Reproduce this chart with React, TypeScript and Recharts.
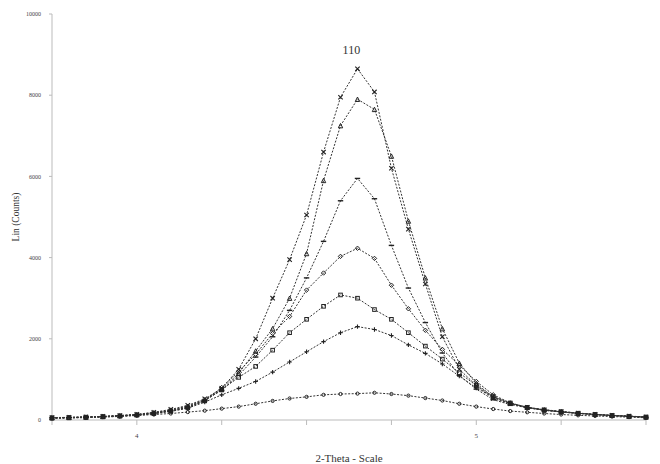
import React from 'react';
import { LineChart, Line, XAxis, YAxis, ReferenceDot } from 'recharts';

// 2-theta positions (step 0.05)
const thetas = [
  3.75, 3.8, 3.85, 3.9, 3.95, 4.0, 4.05, 4.1, 4.15, 4.2, 4.25, 4.3, 4.35, 4.4, 4.45, 4.5, 4.55, 4.6,
  4.65, 4.7, 4.75, 4.8, 4.85, 4.9, 4.95, 5.0, 5.05, 5.1, 5.15, 5.2, 5.25, 5.3, 5.35, 5.4, 5.45, 5.5,
];

const scan1 = [60, 65, 75, 90, 110, 140, 190, 260, 360, 520, 780, 1250, 2000, 3000, 3950, 5050, 6600, 7950,
  8650, 8080, 6200, 4700, 3350, 2050, 1250, 850, 530, 400, 310, 250, 210, 170, 140, 115, 95, 75];
const scan2 = [55, 62, 72, 88, 108, 135, 180, 245, 340, 500, 750, 1150, 1700, 2250, 3000, 4100, 5900, 7250,
  7900, 7650, 6500, 4900, 3500, 2250, 1400, 900, 560, 410, 315, 255, 210, 170, 140, 115, 95, 75];
const scan3 = [55, 62, 72, 85, 105, 130, 175, 235, 320, 490, 730, 1100, 1550, 2050, 2700, 3500, 4400, 5400,
  5950, 5450, 4300, 3250, 2400, 1650, 1100, 760, 500, 380, 300, 240, 200, 165, 135, 110, 92, 72];
const scan4 = [52, 60, 70, 82, 100, 125, 165, 225, 310, 480, 800, 1200, 1620, 2130, 2550, 3200, 3620, 4030,
  4230, 3980, 3320, 2740, 2210, 1740, 1350, 950, 620, 420, 310, 245, 200, 165, 135, 110, 90, 70];
const scan5 = [50, 58, 68, 80, 98, 122, 160, 220, 300, 470, 750, 1050, 1320, 1720, 2150, 2480, 2800, 3080,
  3000, 2720, 2480, 2150, 1820, 1500, 1160, 850, 580, 420, 310, 245, 200, 165, 135, 110, 90, 70];
const scan6 = [50, 56, 66, 78, 95, 118, 155, 210, 290, 440, 620, 780, 950, 1180, 1430, 1680, 1930, 2150,
  2300, 2230, 2080, 1850, 1640, 1380, 1080, 790, 560, 410, 305, 240, 195, 160, 130, 105, 88, 68];
const scan7 = [40, 48, 58, 70, 88, 110, 135, 160, 195, 230, 280, 330, 400, 470, 530, 570, 620, 640,
  650, 670, 640, 600, 540, 480, 400, 330, 270, 220, 190, 160, 135, 115, 100, 85, 70, 55];

const peakLabel = '110';
const xTickLabels: Record<string, string> = { '4': '4', '5': '5' };
const xTicks = [3.75, 4.0, 4.25, 4.5, 4.75, 5.0, 5.25, 5.5];
const yTicks = [0, 2000, 4000, 6000, 8000, 10000];

const data = thetas.map((t, i) => ({
  t,
  s1: scan1[i],
  s2: scan2[i],
  s3: scan3[i],
  s4: scan4[i],
  s5: scan5[i],
  s6: scan6[i],
  s7: scan7[i],
}));

const C = '#222';

const makeDot = (shape: string) => (props: any) => {
  const { cx, cy, index } = props;
  if (cx == null || cy == null) return <g key={`d${index}`} />;
  const s = 2.2;
  switch (shape) {
    case 'cross':
      return (
        <path key={`d${index}`} d={`M${cx - s},${cy - s}L${cx + s},${cy + s}M${cx - s},${cy + s}L${cx + s},${cy - s}`}
          stroke={C} strokeWidth={1.1} fill="none" />
      );
    case 'tri':
      return (
        <path key={`d${index}`} d={`M${cx},${cy - s}L${cx + s},${cy + s}L${cx - s},${cy + s}Z`}
          stroke={C} strokeWidth={1} fill="none" />
      );
    case 'diamond':
      return (
        <path key={`d${index}`} d={`M${cx},${cy - s}L${cx + s},${cy}L${cx},${cy + s}L${cx - s},${cy}Z`}
          stroke={C} strokeWidth={1} fill="none" />
      );
    case 'square':
      return (
        <rect key={`d${index}`} x={cx - s + 0.4} y={cy - s + 0.4} width={2 * s - 0.8} height={2 * s - 0.8}
          stroke={C} strokeWidth={1} fill="none" />
      );
    case 'plus':
      return (
        <path key={`d${index}`} d={`M${cx - s},${cy}L${cx + s},${cy}M${cx},${cy - s}L${cx},${cy + s}`}
          stroke={C} strokeWidth={1.1} fill="none" />
      );
    case 'dash':
      return (
        <path key={`d${index}`} d={`M${cx - s - 0.5},${cy}L${cx + s + 0.5},${cy}`}
          stroke={C} strokeWidth={1.4} fill="none" />
      );
    default:
      return <circle key={`d${index}`} cx={cx} cy={cy} r={1.6} stroke={C} strokeWidth={1} fill="none" />;
  }
};

const series = [
  { key: 's1', shape: 'cross' },
  { key: 's2', shape: 'tri' },
  { key: 's3', shape: 'dash' },
  { key: 's4', shape: 'diamond' },
  { key: 's5', shape: 'square' },
  { key: 's6', shape: 'plus' },
  { key: 's7', shape: 'circle' },
];

const font = '"Liberation Serif", "Times New Roman", serif';

export default function App() {
  return (
    <div style={{ position: 'absolute', left: 0, top: 0, width: 660, height: 464, background: '#fff' }}>
      <LineChart width={660} height={464} data={data} margin={{ top: 14, right: 14, bottom: 0, left: 12 }}>
        <XAxis
          dataKey="t"
          type="number"
          domain={[3.75, 5.5]}
          ticks={xTicks}
          interval={0}
          height={44}
          tickSize={5}
          tickLine={{ stroke: '#bbb' }}
          axisLine={{ stroke: '#bbb' }}
          tickFormatter={(v: number) => xTickLabels[String(v)] ?? ''}
          tick={{ fontSize: 7, fill: '#444', fontFamily: font }}
          tickMargin={8}
          label={{ value: '2-Theta - Scale', position: 'insideBottom', offset: 2, fontSize: 11, fill: '#333', fontFamily: font }}
        />
        <YAxis
          type="number"
          domain={[0, 10000]}
          ticks={yTicks}
          interval={0}
          width={40}
          tickSize={3}
          tickMargin={8}
          tickLine={{ stroke: '#bbb' }}
          axisLine={{ stroke: '#bbb' }}
          tick={{ fontSize: 6, fill: '#444', fontFamily: font }}
          label={{ value: 'Lin (Counts)', angle: -90, position: 'insideLeft', offset: 4, fontSize: 9.5, fill: '#333', fontFamily: font, style: { textAnchor: 'middle' } }}
        />
        {series.map((s) => (
          <Line
            key={s.key}
            dataKey={s.key}
            type="linear"
            stroke="#333"
            strokeWidth={1}
            strokeDasharray="2 1.5"
            dot={makeDot(s.shape)}
            activeDot={false}
            isAnimationActive={false}
          />
        ))}
        <ReferenceDot
          x={4.632}
          y={9113}
          r={0}
          stroke="none"
          fill="none"
          label={{ value: peakLabel, position: 'center', fontSize: 12, fill: '#333', fontFamily: font }}
        />
      </LineChart>
    </div>
  );
}
